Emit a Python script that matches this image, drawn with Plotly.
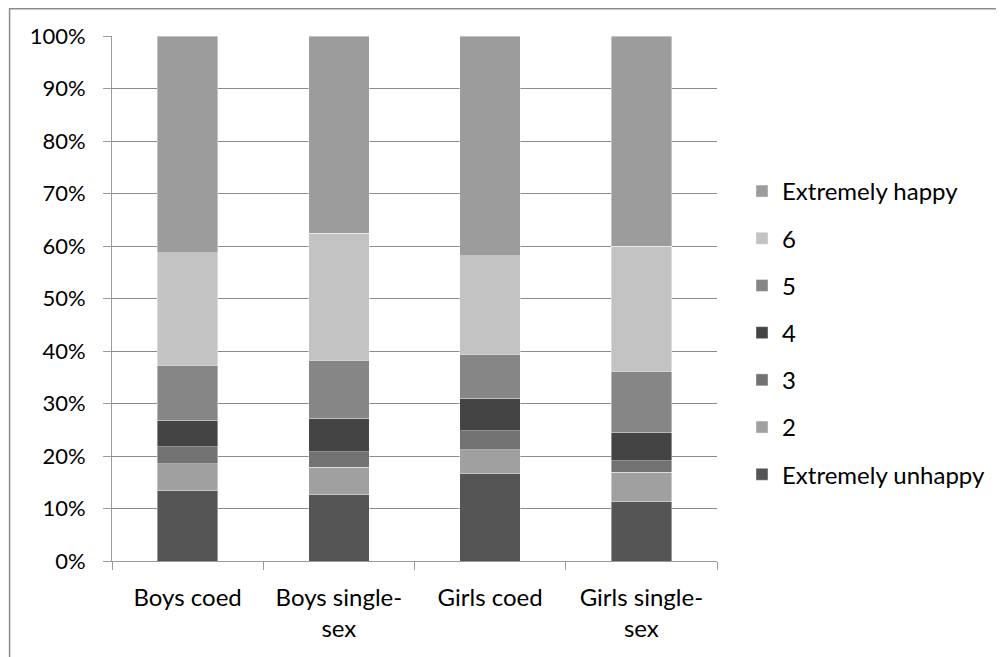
import plotly.graph_objects as go

categories = ["Boys coed", "Boys single-<br>sex", "Girls coed", "Girls single-<br>sex"]
series_names = ["Extremely unhappy", "2", "3", "4", "5", "6", "Extremely happy"]
extremely_unhappy = [13.4, 12.6, 16.7, 11.3]
two = [5.1, 5.3, 4.5, 5.6]
three = [3.3, 2.9, 3.6, 2.2]
four = [5.0, 6.4, 6.2, 5.4]
five = [10.5, 11.0, 8.4, 11.6]
six = [21.4, 24.2, 18.7, 23.9]
extremely_happy = [41.3, 37.6, 41.9, 40.0]
series_values = [extremely_unhappy, two, three, four, five, six, extremely_happy]
colors = ["#555555", "#a0a0a0", "#727272", "#444444", "#868686", "#c3c3c3", "#9c9c9c"]
y_ticks = [0, 10, 20, 30, 40, 50, 60, 70, 80, 90, 100]
y_tick_labels = [f"{v}%" for v in y_ticks]

FONT = "Lato"
OFF = 8  # default body margin of the html page

fig = go.Figure()
n = len(series_names)
for i, (name, vals, col) in enumerate(zip(series_names, series_values, colors)):
    fig.add_trace(go.Bar(
        x=categories, y=vals, name=name, marker_color=col,
        marker_line=dict(color="rgba(255,255,255,0.5)", width=0.8),
        legendgroup=name, legendrank=n - i,
    ))

W, H = 1004 - OFF, 657 - OFF
L, R, T, B = 111.5 - OFF, 717.0 - OFF, 35.7 - OFF, 561.3 - OFF
pw, ph = R - L, B - T


def px_x(p):
    return (p - OFF - L) / pw


def px_y(p):
    return (B - (p - OFF)) / ph


fig.update_layout(
    width=W, height=H,
    barmode="stack", barnorm="percent", bargap=0.6,
    margin=dict(l=L, r=W - R, t=T, b=H - B, pad=0, autoexpand=False),
    plot_bgcolor="white", paper_bgcolor="white",
    font=dict(family=FONT, size=24, color="#000000"),
    showlegend=True,
    legend=dict(
        traceorder="grouped", x=px_x(742), xanchor="left",
        y=px_y(333), yanchor="middle",
        font=dict(family=FONT, size=24, color="#000000"),
        tracegroupgap=13, itemclick=False, bgcolor="rgba(0,0,0,0)",
    ),
    xaxis=dict(
        showgrid=False, showline=True, linecolor="#9a9a9a", linewidth=1,
        ticks="outside", tickson="boundaries", ticklen=8, tickcolor="#9a9a9a",
        tickfont=dict(family=FONT, size=24, color="#000000"),
        ticklabelstandoff=15,
        range=[-0.5, 3.5],
    ),
    yaxis=dict(
        range=[0, 100], tickvals=y_ticks, ticktext=y_tick_labels,
        showgrid=True, gridcolor="#8c8c8c", gridwidth=1,
        showline=True, linecolor="#9a9a9a", linewidth=1,
        ticks="outside", ticklen=8, tickcolor="#9a9a9a",
        tickfont=dict(family=FONT, size=22, color="#000000"),
        ticklabelstandoff=13,
        zeroline=False,
    ),
)

fig.add_shape(type="rect", xref="paper", yref="paper",
              x0=px_x(9), x1=px_x(999), y0=px_y(720), y1=px_y(8.5),
              line=dict(color="#8c8c8c", width=1.5), fillcolor="rgba(0,0,0,0)", layer="below")

fig.write_html("out.html")
